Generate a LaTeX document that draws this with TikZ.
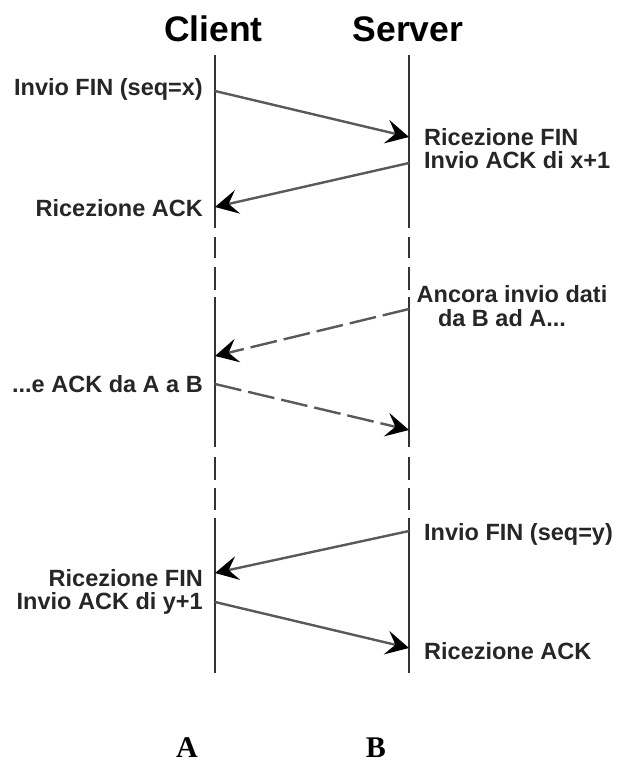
\documentclass[tikz,border=0pt]{standalone}
\usepackage{fontspec}
\setmainfont{Liberation Sans}
\newfontfamily\seriffam{Liberation Serif}
\usetikzlibrary{arrows.meta}
\begin{document}
\begin{tikzpicture}[x=1pt,y=-1pt,
  life/.style={draw=black!80, line width=1.6pt},
  msg/.style={draw=black!65, line width=2.4pt, -{Stealth[length=23pt,width=24pt,inset=9pt,color=black,fill=black]}},
  dmsg/.style={msg, dash pattern=on 27pt off 7pt},
  lbl/.style={font=\fontsize{23.5}{22}\selectfont\bfseries, text=black!85, inner sep=0pt},
  ttl/.style={font=\fontsize{35.5}{40}\selectfont\bfseries, inner sep=0pt},
  ab/.style={font=\seriffam\fontsize{30}{32}\selectfont\bfseries, inner sep=0pt}]
\useasboundingbox (0,0) rectangle (616,763);

% titles
\node[ttl, anchor=base] (tc) at (213.5,41) {Client};
\node[ttl, anchor=base] (ts) at (408,41) {Server};

% lifelines
\foreach \x in {215,409}{
  \draw[life] (\x,55) -- (\x,228);
  \draw[life] (\x,237) -- (\x,258);
  \draw[life] (\x,267) -- (\x,290);
  \draw[life] (\x,297) -- (\x,447);
  \draw[life] (\x,457) -- (\x,480);
  \draw[life] (\x,488) -- (\x,510);
  \draw[life] (\x,518) -- (\x,673);
}

% message end points
\coordinate (c1) at (215,91);
\coordinate (s1) at (409,137);
\coordinate (s2) at (409,163);
\coordinate (c2) at (215,207);
\coordinate (s3) at (409,309);
\coordinate (c3) at (215,356);
\coordinate (c4) at (215,384);
\coordinate (s4) at (409,430);
\coordinate (s5) at (409,531);
\coordinate (c5) at (215,573);
\coordinate (c6) at (215,602);
\coordinate (s6) at (409,648);

% messages
\draw[msg] (c1) -- (s1);
\draw[msg] (s2) -- (c2);
\draw[dmsg] (s3) -- (c3);
\draw[dmsg] (c4) -- (s4);
\draw[msg] (s5) -- (c5);
\draw[msg] (c6) -- (s6);

% labels
\node[lbl, anchor=base east] (l1) at (203,95) {Invio FIN (seq=x)};
\node[lbl, anchor=base west] (l2a) at (424,145) {Ricezione FIN};
\node[lbl, anchor=base west] (l2b) at (424,168) {Invio ACK di x+1};
\node[lbl, anchor=base east] (l3) at (203,216) {Ricezione ACK};
\node[lbl, anchor=base] (l4a) at (512,302) {Ancora invio dati};
\node[lbl, anchor=base] (l4b) at (502,326) {da B ad A...};
\node[lbl, anchor=base east] (l5) at (203,392) {...e ACK da A a B};
\node[lbl, anchor=base west] (l6) at (424,540) {Invio FIN (seq=y)};
\node[lbl, anchor=base east] (l7a) at (203,586) {Ricezione FIN};
\node[lbl, anchor=base east] (l7b) at (203,609) {Invio ACK di y+1};
\node[lbl, anchor=base west] (l8) at (424,659) {Ricezione ACK};

% A and B
\node[ab, anchor=base] (na) at (187,757) {A};
\node[ab, anchor=base] (nb) at (376,757) {B};
\end{tikzpicture}
\end{document}
